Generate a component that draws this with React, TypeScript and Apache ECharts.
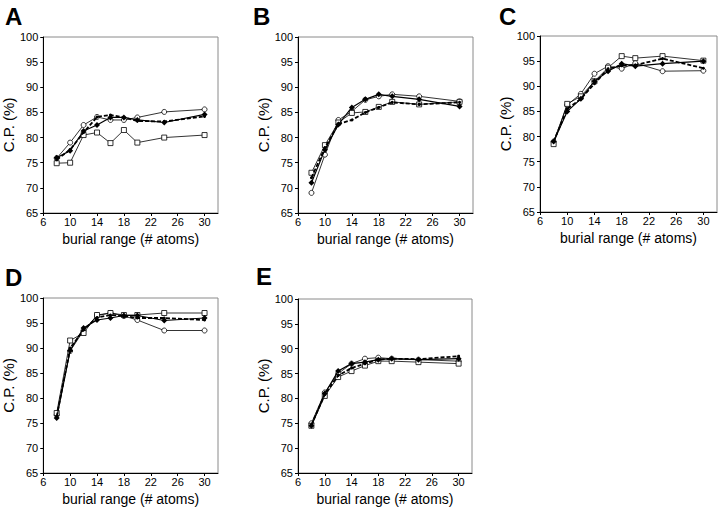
import React, { useEffect, useRef } from "react";
import * as echarts from "echarts";

const xValues = [8, 10, 12, 14, 16, 18, 20, 24, 30];
const xTicks = [6, 10, 14, 18, 22, 26, 30];
const panelLetters = ["A", "B", "C", "D", "E"];

// Panel A
const aCircle = [75.9, 79.0, 82.5, 84.1, 83.5, 83.5, 84.0, 85.1, 85.6];
const aSquare = [74.9, 75.0, 80.5, 81.0, 78.9, 81.5, 79.0, 80.0, 80.5];
const aDiamond = [76.0, 77.4, 81.3, 82.5, 84.0, 84.0, 83.5, 83.0, 84.6];
const aDashed = [75.6, 77.6, 81.0, 84.1, 84.5, 84.0, 83.3, 83.2, 84.2];

// Panel B
const bCircle = [69.0, 76.6, 83.5, 85.2, 87.5, 88.2, 88.6, 88.2, 87.2];
const bSquare = [73.0, 78.5, 83.0, 84.9, 85.1, 86.1, 87.1, 86.6, 87.1];
const bDiamond = [71.0, 77.6, 82.6, 86.0, 87.6, 88.6, 88.2, 87.6, 86.2];
const bDashed = [72.0, 78.0, 82.7, 83.5, 85.0, 86.0, 87.0, 86.6, 87.0];

// Panel C
const cCircle = [79.0, 86.3, 88.5, 92.5, 94.0, 93.5, 94.6, 93.0, 93.1];
const cSquare = [78.5, 86.5, 88.0, 91.0, 93.7, 96.0, 95.6, 96.0, 95.1];
const cDiamond = [79.0, 85.0, 87.5, 91.0, 93.0, 94.5, 94.0, 94.5, 95.0];
const cDashed = [79.0, 85.5, 87.5, 90.5, 93.5, 94.1, 94.2, 95.5, 93.6];

// Panel D
const dCircle = [76.6, 89.4, 93.5, 96.5, 97.0, 96.4, 95.6, 93.5, 93.5];
const dSquare = [77.0, 91.5, 93.0, 96.6, 97.0, 96.6, 96.6, 97.0, 97.0];
const dDiamond = [76.0, 89.5, 94.0, 95.6, 96.0, 96.5, 96.5, 95.5, 96.0];
const dDashed = [76.3, 90.0, 93.6, 96.1, 96.6, 96.4, 96.0, 96.0, 95.6];

// Panel E
const eCircle = [75.0, 81.2, 85.0, 87.0, 88.0, 88.2, 88.0, 87.8, 87.5];
const eSquare = [74.5, 80.5, 84.3, 85.5, 86.6, 87.5, 87.5, 87.3, 87.0];
const eDiamond = [74.5, 81.0, 85.5, 87.0, 87.3, 87.8, 88.0, 87.8, 88.0];
const eDashed = [74.7, 80.8, 84.6, 86.1, 87.0, 87.8, 88.0, 87.9, 88.5];

const panelData = [
  [aCircle, aSquare, aDiamond, aDashed],
  [bCircle, bSquare, bDiamond, bDashed],
  [cCircle, cSquare, cDiamond, cDashed],
  [dCircle, dSquare, dDiamond, dDashed],
  [eCircle, eSquare, eDiamond, eDashed],
];

// layout (px): left, top, width, height of each plot area
const layout = [
  { left: 42, top: 37, width: 176, height: 176, lx: 5, ly: 4 },
  { left: 298, top: 37, width: 175, height: 176, lx: 253, ly: 4 },
  { left: 540, top: 36, width: 177, height: 176, lx: 499, ly: 4 },
  { left: 42, top: 298, width: 176, height: 177, lx: 5, ly: 265 },
  { left: 298, top: 299, width: 174, height: 175, lx: 256, ly: 264 },
];

const FONT = "Liberation Sans, Arial, Helvetica, sans-serif";

export default function App() {
  const ref = useRef<HTMLDivElement>(null);
  useEffect(() => {
    document.body.style.margin = "0";
    const chart = echarts.init(ref.current!, undefined, { renderer: "svg" });
    const grids: any[] = [];
    const xAxes: any[] = [];
    const yAxes: any[] = [];
    const series: any[] = [];
    const titles: any[] = [];
    layout.forEach((l, i) => {
      grids.push({
        left: l.left,
        top: l.top,
        width: l.width,
        height: l.height,
        show: true,
        borderColor: "#8a8a8a",
        borderWidth: 1,
        backgroundColor: "transparent",
        containLabel: false,
      });
      titles.push({
        text: panelLetters[i],
        left: l.lx,
        top: l.ly,
        padding: 0,
        textStyle: { fontFamily: FONT, fontSize: 24, fontWeight: "bold", color: "#000" },
      });
      xAxes.push({
        gridIndex: i,
        type: "value",
        min: 6,
        max: 32,
        name: "burial range (# atoms)",
        nameLocation: "middle",
        nameGap: 19,
        nameTextStyle: { fontFamily: FONT, fontSize: 14, color: "#000" },
        axisLine: { onZero: false, lineStyle: { color: "#000", width: 1 } },
        axisTick: { show: true, length: 3, inside: false, lineStyle: { color: "#000" }, customValues: xTicks },
        axisLabel: { fontFamily: FONT, fontSize: 11, color: "#000", margin: 3, customValues: xTicks },
        splitLine: { show: false },
      });
      yAxes.push({
        gridIndex: i,
        type: "value",
        min: 65,
        max: 100,
        interval: 5,
        name: "C.P. (%)",
        nameLocation: "middle",
        nameGap: 26,
        nameTextStyle: { fontFamily: FONT, fontSize: 15, color: "#000" },
        axisLine: { show: true, onZero: false, lineStyle: { color: "#000", width: 1 } },
        axisTick: { show: true, length: 3, lineStyle: { color: "#000" } },
        axisLabel: { fontFamily: FONT, fontSize: 11, color: "#000", margin: 5 },
        splitLine: { show: false },
      });
      const [circ, sq, dia, dash] = panelData[i];
      const pts = (arr: number[]) => arr.map((v, k) => [xValues[k], v]);
      series.push({
        type: "line",
        xAxisIndex: i,
        yAxisIndex: i,
        data: pts(circ),
        symbol: "circle",
        symbolSize: 5,
        itemStyle: { color: "#fff", borderColor: "#000", borderWidth: 0.8 },
        lineStyle: { color: "#000", width: 0.8 },
        z: 3,
      });
      series.push({
        type: "line",
        xAxisIndex: i,
        yAxisIndex: i,
        data: pts(sq),
        symbol: "rect",
        symbolSize: 5,
        itemStyle: { color: "#fff", borderColor: "#000", borderWidth: 0.8 },
        lineStyle: { color: "#000", width: 0.8 },
        z: 3,
      });
      series.push({
        type: "line",
        xAxisIndex: i,
        yAxisIndex: i,
        data: pts(dia),
        symbol: "diamond",
        symbolSize: 6,
        itemStyle: { color: "#000" },
        lineStyle: { color: "#000", width: 1.2 },
        z: 4,
      });
      series.push({
        type: "line",
        xAxisIndex: i,
        yAxisIndex: i,
        data: pts(dash),
        symbol: "circle",
        symbolSize: 3,
        itemStyle: { color: "#000" },
        lineStyle: { color: "#000", width: 1.8, type: [4, 2] },
        z: 5,
      });
    });
    chart.setOption({
      animation: false,
      backgroundColor: "#fff",
      title: titles,
      grid: grids,
      xAxis: xAxes,
      yAxis: yAxes,
      series,
    });
    return () => chart.dispose();
  }, []);
  return <div ref={ref} style={{ position: "absolute", left: 0, top: 0, width: 720, height: 507 }} />;
}
